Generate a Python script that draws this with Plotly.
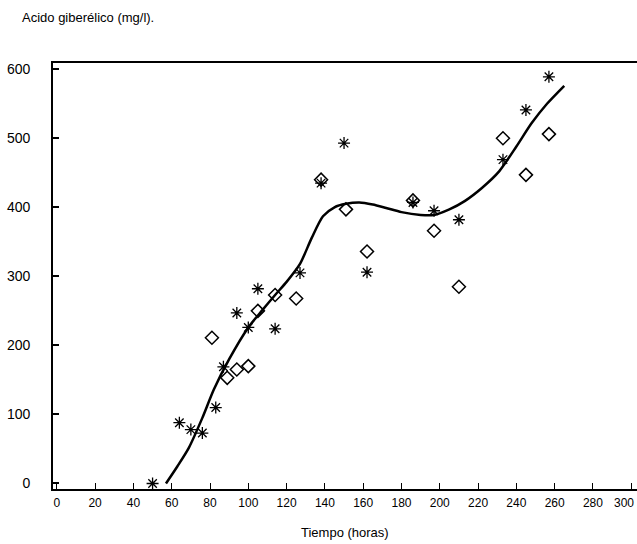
import plotly.graph_objects as go

# Series 1: asterisks
ast_x = [50, 64, 70, 76, 83, 87, 94, 100, 105, 114, 127, 138, 150, 162, 186, 197, 210, 233, 245, 257]
ast_y = [0, 88, 78, 73, 110, 169, 247, 226, 282, 224, 305, 435, 493, 306, 407, 395, 382, 469, 541, 589]

# Series 2: diamonds
dia_x = [81, 89, 94, 100, 105, 114, 125, 138, 151, 162, 186, 197, 210, 233, 245, 257]
dia_y = [211, 153, 165, 170, 250, 273, 268, 440, 397, 336, 410, 366, 285, 500, 447, 506]

# Fitted curve
fit_x = [57, 63, 69, 76, 82, 90, 100, 107, 114, 120, 127, 133, 139, 145, 151, 158, 165,
         172, 180, 190, 197, 205, 213, 222, 231, 240, 248, 256, 265]
fit_y = [0, 25, 52, 95, 136, 180, 226, 250, 273, 292, 318, 355, 387, 400, 405, 407, 404,
         399, 393, 389, 389, 397, 409, 428, 452, 488, 522, 550, 576]

x_ticks = list(range(0, 301, 20))
x_labels = [str(v) for v in x_ticks]
y_ticks = [0, 100, 200, 300, 400, 500, 600]

FONT = "Liberation Sans, Arial, sans-serif"

fig = go.Figure()
fig.add_trace(go.Scatter(x=fit_x, y=fit_y, mode="lines",
                         line=dict(color="black", width=2.5, shape="spline", smoothing=0.7),
                         hoverinfo="skip", showlegend=False))
fig.add_trace(go.Scatter(x=ast_x, y=ast_y, mode="markers",
                         marker=dict(symbol="asterisk-open", size=10, color="black",
                                     line=dict(color="black", width=1.3)),
                         showlegend=False))
fig.add_trace(go.Scatter(x=dia_x, y=dia_y, mode="markers",
                         marker=dict(symbol="diamond-open", size=10, color="black",
                                     line=dict(color="black", width=1.5)),
                         showlegend=False))

fig.update_layout(
    width=637, height=544,
    margin=dict(l=53, r=0, t=63, b=55, autoexpand=False),
    paper_bgcolor="white", plot_bgcolor="white",
    font=dict(family=FONT, size=13, color="black"),
    showlegend=False,
    xaxis=dict(range=[-2, 303], tickvals=x_ticks, ticktext=x_labels[:-1] + [""],
               showgrid=False, zeroline=False, showline=True, linecolor="black", linewidth=1.5,
               mirror=True, ticks="inside", ticklen=6, tickcolor="black", tickwidth=1.2,
               tickfont=dict(size=12, family=FONT), ticklabelstandoff=2, automargin=False),
    yaxis=dict(range=[-8, 609], tickvals=y_ticks, ticktext=[str(v) for v in y_ticks],
               showgrid=False, zeroline=False, showline=True, linecolor="black", linewidth=1.8,
               ticks="inside", ticklen=6, tickcolor="black", tickwidth=1.5,
               tickfont=dict(size=14, family=FONT), ticklabelstandoff=18, automargin=False),
    annotations=[
        dict(text="Acido giberélico (mg/l).", xref="paper", yref="paper",
             x=-33/584, y=1 + (63 - 18) / 426, xanchor="left", yanchor="middle",
             showarrow=False, font=dict(size=13, family=FONT)),
        dict(text="Tiempo (horas)", xref="paper", yref="paper",
             x=(345 - 53) / 584, y=-(532 - 489) / 426, xanchor="center", yanchor="middle",
             showarrow=False, font=dict(size=13, family=FONT)),
        dict(text=x_labels[-1], xref="paper", yref="paper",
             x=(636 - 53) / 584, y=-(503 - 489) / 426, xanchor="right", yanchor="middle",
             showarrow=False, font=dict(size=12, family=FONT)),
    ],
)

fig.write_html("out.html", config={"displayModeBar": False},
               post_script="document.body.style.margin='0';document.body.style.overflow='hidden';")
